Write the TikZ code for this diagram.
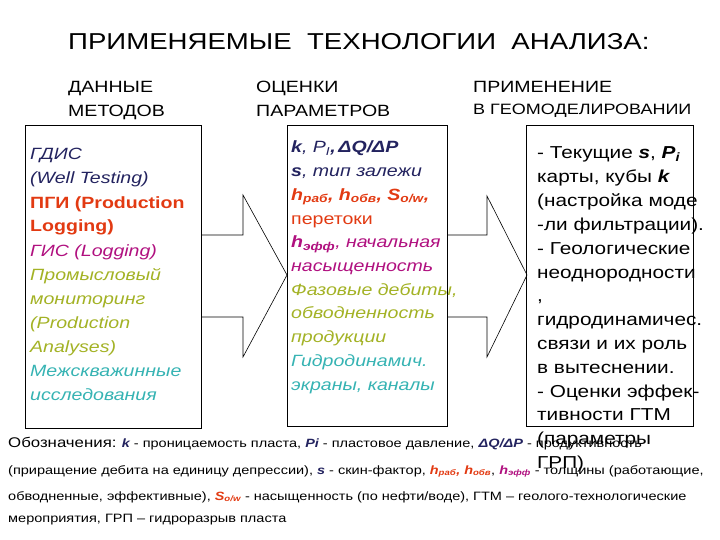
\documentclass[tikz,border=0pt]{standalone}
\usepackage{fontspec}
\setmainfont[FakeStretch=1.2]{Liberation Sans}
\definecolor{cnavy}{HTML}{23235F}
\definecolor{cred}{HTML}{E23A12}
\definecolor{cmag}{HTML}{B0107F}
\definecolor{colive}{HTML}{A3B225}
\definecolor{cteal}{HTML}{36B3B3}
\begin{document}
\begin{tikzpicture}[x=1pt,y=-1pt,
  ln/.style={anchor=base west,inner sep=0pt},
  box/.style={draw,line width=0.8pt},
  arr/.style={draw,line width=0.6pt},
  hdr/.style={ln,font=\fontsize{16.3}{16}\selectfont}]
\useasboundingbox (0,0) rectangle (720,540);
\node[ln,font=\fontsize{23}{23}\selectfont] (title) at (68,50) {ПРИМЕНЯЕМЫЕ\ \ ТЕХНОЛОГИИ\ \ АНАЛИЗА:};
\node[hdr] (h1a) at (68,93) {ДАННЫЕ};
\node[hdr] (h1b) at (68,117) {МЕТОДОВ};
\node[hdr] (h2a) at (256,93) {ОЦЕНКИ};
\node[hdr] (h2b) at (256,117) {ПАРАМЕТРОВ};
\node[hdr] (h3a) at (473,93) {ПРИМЕНЕНИЕ};
\node[hdr,font=\fontsize{15}{15}\selectfont] (h3b) at (473,115) {В ГЕОМОДЕЛИРОВАНИИ};
% boxes
\draw[box] (25,125) rectangle (201,428);
\draw[box] (287,125) rectangle (447,426);
\draw[box] (526,125) rectangle (693,426);
% arrows
\coordinate (a1) at (201,235);
\draw[arr] (a1) -- (243,235) -- (243,195) -- (287,275) -- (243,357) -- (243,317) -- (201,317);
\coordinate (a2) at (447,235);
\draw[arr] (a2) -- (487,235) -- (487,196) -- (527,275) -- (487,357) -- (487,317) -- (447,317);
% box1
\foreach \t [count=\i] in {
 {\color{cnavy}\itshape ГДИС},{\color{cnavy}\itshape (Well Testing)},
 {\color{cred}\bfseries ПГИ (Production},{\color{cred}\bfseries Logging)},
 {\color{cmag}\itshape ГИС (Logging)},{\color{colive}\itshape Промысловый},
 {\color{colive}\itshape мониторинг},{\color{colive}\itshape (Production},
 {\color{colive}\itshape Analyses)},{\color{cteal}\itshape Межскважинные},
 {\color{cteal}\itshape исследования}}
 \node[ln,font=\fontsize{16.3}{16}\selectfont] (b1l\i) at (30,{160+24*(\i-1)}) {\t};
% box2
\foreach \t [count=\i] in {
 {\color{cnavy}\bfseries\itshape k\mdseries, P\textsubscript{I}\bfseries,\,ΔQ/ΔP},
 {\color{cnavy}\bfseries\itshape s\mdseries, тип залежи},
 {\color{cred}\bfseries\itshape h\textsubscript{раб}, h\textsubscript{обв}, S\textsubscript{o/w},},
 {\color{cred}перетоки},
 {\color{cmag}\bfseries\itshape h\textsubscript{эфф}\mdseries, начальная},
 {\color{cmag}\itshape насыщенность},
 {\color{colive}\itshape Фазовые дебиты,},{\color{colive}\itshape обводненность},
 {\color{colive}\itshape продукции},{\color{cteal}\itshape Гидродинамич.},
 {\color{cteal}\itshape экраны, каналы}}
 \node[ln,font=\fontsize{16.3}{16}\selectfont] (b2l\i) at (291,{153+23.7*(\i-1)}) {\t};
% box3
\foreach \t [count=\i] in {
 {- Текущие \textbf{\textit{s}}, \textbf{\textit{P\textsubscript{i}}}},
 {карты, кубы \textbf{\textit{k}}},{(настройка моде},{-ли фильтрации).},
 {- Геологические},{неоднородности},{,},{гидродинамичес.},
 {связи и их роль},{в вытеснении.},{- Оценки эффек-},{тивности ГТМ},
 {(параметры},{ГРП)}}
 \node[ln,font=\fontsize{17.3}{17}\selectfont] (b3l\i) at (537,{159+23.8*(\i-1)}) {\t};
\draw[box] (693,125) -- (693,426);
% footnote
\node[ln,font=\fontsize{12.1}{12}\selectfont] (f1) at (8,447) {{\fontsize{14}{14}\selectfont Обозначения:} \textcolor{cnavy}{\bfseries\itshape\large k} - проницаемость пласта, \textcolor{cnavy}{\bfseries\itshape\large Pi} - пластовое давление, \textcolor{cnavy}{\bfseries\itshape ΔQ/ΔP} - продуктивность};
\node[ln,font=\fontsize{12.1}{12}\selectfont] (f2) at (8,474) {(приращение дебита на единицу депрессии), \textcolor{cnavy}{\bfseries\itshape\large s} - скин-фактор, \textcolor{cred}{\bfseries\itshape\large h\textsubscript{раб}, h\textsubscript{обв}}, \textcolor{cmag}{\bfseries\itshape\large h\textsubscript{эфф}} - толщины (работающие,};
\node[ln,font=\fontsize{12.1}{12}\selectfont] (f3) at (8,500) {обводненные, эффективные), \textcolor{cred}{\bfseries\itshape\large S\textsubscript{o/w}} - насыщенность (по нефти/воде), ГТМ -- геолого-технологические};
\node[ln,font=\fontsize{12.1}{12}\selectfont] (f4) at (8,522) {мероприятия, ГРП -- гидроразрыв пласта};
\end{tikzpicture}
\end{document}
